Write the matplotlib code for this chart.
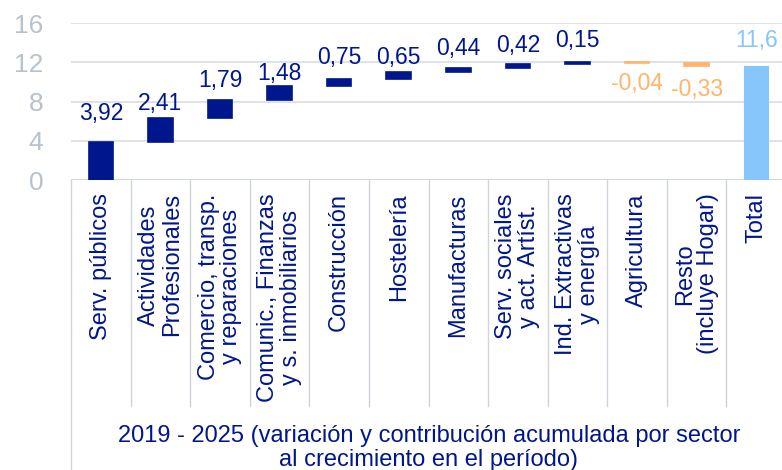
import numpy as np
import matplotlib.pyplot as plt

plt.rcParams['font.family'] = ['Liberation Sans', 'DejaVu Sans']

# datos
sectores = ["Serv. públicos", "Actividades\nProfesionales", "Comercio, transp.\ny reparaciones",
            "Comunic., Finanzas\ny s. inmobiliarios", "Construcción", "Hostelería", "Manufacturas",
            "Serv. sociales\ny act. Artíst.", "Ind. Extractivas\ny energía", "Agricultura",
            "Resto\n(incluye Hogar)", "Total"]
contribucion = [3.92, 2.41, 1.79, 1.48, 0.75, 0.65, 0.44, 0.42, 0.15, -0.04, -0.33]
total = 11.6
etiquetas = ["3,92", "2,41", "1,79", "1,48", "0,75", "0,65", "0,44", "0,42", "0,15", "-0,04", "-0,33", "11,6"]

# desplazamiento de las etiquetas respecto a la barra (unidades del eje)
label_dy = [2.9, 1.5, 2.0, 1.3, 2.15, 1.5, 2.0, 1.85, 2.2, -2.2, -2.7, 2.6]

navy = '#00168C'
naranja = '#FFB469'
azul_claro = '#86C6FA'

fig = plt.figure(figsize=(7.82, 4.70), dpi=100)
ax = fig.add_axes([71 / 782, 290 / 470, 715 / 782, 156.7 / 470])

contribucion = np.array(contribucion)
fin = np.cumsum(contribucion)
inicio = fin - contribucion
x = np.arange(len(contribucion))
colores = [navy if v > 0 else naranja for v in contribucion]

ax.bar(x, contribucion, bottom=inicio, width=0.41, color=colores, edgecolor=colores,
       linewidth=1.2, zorder=3)
ax.bar(len(contribucion), total, width=0.41, color=azul_claro, edgecolor=azul_claro,
       linewidth=0.8, zorder=3)

for i, v in enumerate(contribucion):
    if v > 0:
        ax.text(i, fin[i] + label_dy[i], etiquetas[i], ha='center', va='center',
                fontsize=16.5, color=navy)
    else:
        ax.text(i, inicio[i] + label_dy[i], etiquetas[i], ha='center', va='center',
                fontsize=16.5, color=naranja)
ax.text(len(contribucion), total + label_dy[-1], etiquetas[-1], ha='center', va='center',
        fontsize=16.5, color=azul_claro)

ax.set_xlim(-0.5, 11.5)
ax.set_ylim(0, 16)
ax.set_yticks([0, 4, 8, 12, 16])
ax.tick_params(axis='y', length=0, pad=20, labelsize=19, labelcolor='#B7C2CC')
ax.set_xticks([])
ax.grid(axis='y', color='#D9DDE2', linewidth=1.2, zorder=0)
for s in ax.spines.values():
    s.set_visible(False)
ax.axhline(0, color='#D0D5DB', linewidth=1.2, zorder=2)

# etiquetas de categoria y separadores
trans = ax.get_xaxis_transform()
for i, nombre in enumerate(sectores):
    ax.text(i, -0.085, nombre, transform=trans, rotation=90, ha='center', va='top',
            multialignment='center', fontsize=17, color=navy, linespacing=1.05)
for i in range(len(sectores) + 1):
    y_fin = -1.85 if i == 0 else -1.44
    ax.plot([i - 0.5, i - 0.5], [0, y_fin], transform=trans, color='#D0D5DB',
            linewidth=1.0, clip_on=False)

fig.text(429 / 782, 0.047, "2019 - 2025 (variación y contribución acumulada por sector\n"
         "al crecimiento en el período)", ha='center', va='center', fontsize=17,
         color=navy, linespacing=1.12)

plt.savefig('out.png', dpi=100)
